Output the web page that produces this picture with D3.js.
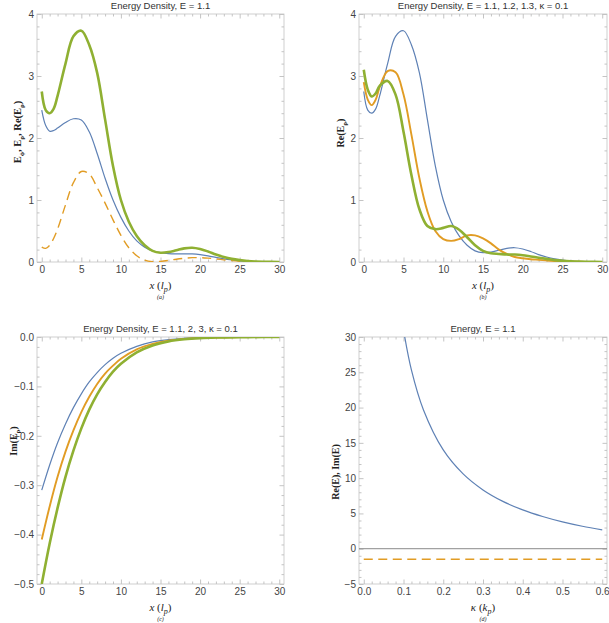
<!DOCTYPE html>
<html>
<head>
<meta charset="utf-8">
<script src="https://cdn.jsdelivr.net/npm/d3@7"></script>
<style>
  body { margin: 0; background: #fff; }
  svg { display: block; }
</style>
</head>
<body>
<div id="chart"></div>
<script>
// ---- data ----
const xGrid = [0, 0.5, 1, 1.5, 2, 3, 4, 5, 6, 7, 8, 9, 10, 11, 12, 13, 14, 15, 16, 17, 18, 19, 20, 21, 22, 23, 24, 25, 26, 27, 28, 30];

// panel (a), E = 1.1
const densA_green = [2.75, 2.45, 2.40, 2.47, 2.68, 3.20, 3.64, 3.73, 3.50, 3.05, 2.30, 1.55, 1.00, 0.65, 0.42, 0.27, 0.18, 0.15, 0.16, 0.19, 0.22, 0.23, 0.21, 0.17, 0.12, 0.08, 0.05, 0.03, 0.016, 0.008, 0.004, 0];
const densA_blue = [2.45, 2.20, 2.11, 2.12, 2.16, 2.25, 2.31, 2.29, 2.10, 1.75, 1.35, 1.00, 0.72, 0.50, 0.34, 0.24, 0.18, 0.15, 0.135, 0.13, 0.13, 0.13, 0.12, 0.10, 0.075, 0.05, 0.032, 0.018, 0.01, 0.005, 0.002, 0];
const densA_orange = [0.24, 0.22, 0.27, 0.38, 0.53, 0.92, 1.28, 1.46, 1.42, 1.20, 0.95, 0.68, 0.43, 0.23, 0.10, 0.03, 0.005, 0.01, 0.025, 0.045, 0.06, 0.07, 0.07, 0.062, 0.05, 0.035, 0.022, 0.012, 0.006, 0.003, 0.001, 0];

// panel (b), E = 1.1 (same curve as green in a), 1.2, 1.3
const reB_e11 = densA_green;
const reB_e12 = [2.90, 2.62, 2.53, 2.62, 2.82, 3.08, 3.06, 2.70, 2.05, 1.35, 0.82, 0.50, 0.37, 0.34, 0.37, 0.43, 0.43, 0.38, 0.30, 0.20, 0.13, 0.08, 0.06, 0.045, 0.035, 0.025, 0.017, 0.011, 0.007, 0.004, 0.002, 0];
const reB_e13 = [3.10, 2.78, 2.67, 2.72, 2.84, 2.92, 2.70, 2.10, 1.40, 0.85, 0.58, 0.53, 0.55, 0.58, 0.52, 0.40, 0.27, 0.18, 0.14, 0.13, 0.12, 0.12, 0.11, 0.09, 0.07, 0.05, 0.03, 0.02, 0.012, 0.006, 0.003, 0];

// panel (c), E = 1.1, 2, 3
const cGrid = [0, 1, 2, 3, 4, 5, 6, 7, 8, 9, 10, 12, 14, 16, 18, 20, 22, 25, 28, 30];
const imC_e11 = [-0.31, -0.259, -0.214, -0.176, -0.143, -0.115, -0.091, -0.072, -0.056, -0.043, -0.033, -0.019, -0.010, -0.0055, -0.0028, -0.0014, -0.0007, -0.0002, -0.0001, 0];
const imC_e2 = [-0.41, -0.343, -0.283, -0.232, -0.189, -0.152, -0.121, -0.095, -0.074, -0.058, -0.044, -0.025, -0.014, -0.0073, -0.0037, -0.0018, -0.0009, -0.0002, -0.0001, 0];
const imC_e3 = [-0.5, -0.418, -0.346, -0.283, -0.230, -0.185, -0.147, -0.116, -0.091, -0.070, -0.054, -0.031, -0.017, -0.009, -0.0046, -0.0022, -0.001, -0.0003, -0.0001, 0];

// panel (d), energy vs kappa
const kGrid = [0.1, 0.12, 0.15, 0.2, 0.25, 0.3, 0.35, 0.4, 0.45, 0.5, 0.55, 0.6];
const reE = [31, 25.3, 19.7, 14.0, 10.6, 8.33, 6.71, 5.5, 4.56, 3.8, 3.18, 2.67];
const kImGrid = [0, 0.6];
const imE = [-1.5, -1.5];

// tick values
const xMajor = [0, 5, 10, 15, 20, 25, 30];
const xMinor = d3.range(0, 31, 1).filter(v => v % 5 !== 0);
const yMajorAB = [0, 1, 2, 3, 4];
const yMinorAB = d3.range(0, 4.01, 0.2).filter(v => Math.abs(v - Math.round(v)) > 1e-6);
const yMajorC = [0, -0.1, -0.2, -0.3, -0.4, -0.5];
const yMinorC = d3.range(-0.5, 0.001, 0.02).filter(v => Math.abs(v * 10 - Math.round(v * 10)) > 1e-6);
const kMajor = [0, 0.1, 0.2, 0.3, 0.4, 0.5, 0.6];
const kMinor = d3.range(0, 0.601, 0.02).filter(v => Math.abs(v * 10 - Math.round(v * 10)) > 1e-6);
const yMajorD = [-5, 0, 5, 10, 15, 20, 25, 30];
const yMinorD = d3.range(-5, 30.01, 1).filter(v => v % 5 !== 0);

const BLUE = "#5e81b5", ORANGE = "#e19c24", GREEN = "#8fb032";

const svg = d3.select("#chart").append("svg")
  .attr("width", 609)
  .attr("height", 623);

let clipId = 0;

function panel(cfg) {
  const g = svg.append("g");
  const x = d3.scaleLinear().domain(cfg.xDomain).range([cfg.left, cfg.right]);
  const y = d3.scaleLinear().domain(cfg.yDomain).range([cfg.bottom, cfg.top]);

  // title
  g.append("text")
    .attr("x", (cfg.left + cfg.right) / 2)
    .attr("y", cfg.top - 5)
    .attr("text-anchor", "middle")
    .style("font-family", "Liberation Sans, Arial, sans-serif")
    .style("font-size", "9.5px")
    .style("fill", "#333")
    .text(cfg.title);

  // frame ticks, all four sides, pointing inward
  const tickCol = "#b5b5b5";
  function addAxis(axis, tx, ty, labels) {
    const a = g.append("g").attr("transform", `translate(${tx},${ty})`).call(axis);
    a.select(".domain").remove();
    a.selectAll("line").attr("stroke", tickCol).attr("stroke-width", 0.8);
    a.selectAll("text")
      .style("font-family", "Liberation Sans, Arial, sans-serif")
      .style("font-size", "10px")
      .style("fill", "#444");
    if (!labels) a.selectAll("text").remove();
  }
  addAxis(d3.axisBottom(x).tickValues(cfg.xMajor).tickSize(-4.5).tickPadding(4).tickFormat(cfg.xFmt), 0, cfg.bottom, true);
  addAxis(d3.axisBottom(x).tickValues(cfg.xMinor).tickSize(-2.5), 0, cfg.bottom, false);
  addAxis(d3.axisTop(x).tickValues(cfg.xMajor).tickSize(-4.5), 0, cfg.top, false);
  addAxis(d3.axisTop(x).tickValues(cfg.xMinor).tickSize(-2.5), 0, cfg.top, false);
  addAxis(d3.axisLeft(y).tickValues(cfg.yMajor).tickSize(-4.5).tickPadding(3).tickFormat(cfg.yFmt), cfg.left, 0, true);
  addAxis(d3.axisLeft(y).tickValues(cfg.yMinor).tickSize(-2.5), cfg.left, 0, false);
  addAxis(d3.axisRight(y).tickValues(cfg.yMajor).tickSize(-4.5), cfg.right, 0, false);
  addAxis(d3.axisRight(y).tickValues(cfg.yMinor).tickSize(-2.5), cfg.right, 0, false);

  g.append("rect")
    .attr("x", cfg.left).attr("y", cfg.top)
    .attr("width", cfg.right - cfg.left).attr("height", cfg.bottom - cfg.top)
    .attr("fill", "none")
    .attr("stroke", "#c4c4c4")
    .attr("stroke-width", 0.8);

  // clip for curves
  const id = "clip" + (clipId++);
  svg.append("clipPath").attr("id", id).append("rect")
    .attr("x", cfg.left).attr("y", cfg.top)
    .attr("width", cfg.right - cfg.left).attr("height", cfg.bottom - cfg.top);
  const plot = g.append("g").attr("clip-path", `url(#${id})`);

  if (cfg.zeroLine) {
    plot.append("line")
      .attr("x1", cfg.left).attr("x2", cfg.right)
      .attr("y1", y(0)).attr("y2", y(0))
      .attr("stroke", "#8a8a8a").attr("stroke-width", 1);
  }

  const line = d3.line()
    .x(d => x(d[0]))
    .y(d => y(d[1]))
    .curve(d3.curveCatmullRom.alpha(0.5));

  cfg.series.forEach(s => {
    plot.append("path")
      .datum(d3.zip(s.xs, s.ys))
      .attr("d", line)
      .attr("fill", "none")
      .attr("stroke", s.color)
      .attr("stroke-width", s.width)
      .attr("stroke-dasharray", s.dash || null)
      .attr("stroke-linejoin", "round")
      .attr("stroke-linecap", "butt");
  });

  // x label (serif, italic) with subscript
  const xl = g.append("text")
    .attr("x", (cfg.left + cfg.right) / 2)
    .attr("y", cfg.bottom + 27)
    .attr("text-anchor", "middle")
    .style("font-family", "Liberation Serif, Times New Roman, serif")
    .style("font-size", "11px")
    .style("fill", "#222");
  xl.append("tspan").style("font-style", "italic").text(cfg.xVar);
  xl.append("tspan").text(" (");
  xl.append("tspan").style("font-style", "italic").text(cfg.xUnit);
  xl.append("tspan").style("font-style", "italic").style("font-size", "8px").attr("dy", 2.5).text("p");
  xl.append("tspan").attr("dy", -2.5).text(")");

  g.append("text")
    .attr("x", (cfg.left + cfg.right) / 2)
    .attr("y", cfg.bottom + 37)
    .attr("text-anchor", "middle")
    .style("font-family", "Liberation Serif, Times New Roman, serif")
    .style("font-size", "6px")
    .style("font-style", "italic")
    .style("fill", "#222")
    .text(cfg.tag);

  // y label, rotated, bold serif, pieces with subscripts
  const yl = g.append("text")
    .attr("transform", `translate(${cfg.yLabelX},${cfg.yLabelY}) rotate(-90)`)
    .attr("text-anchor", "middle")
    .style("font-family", "Liberation Serif, Times New Roman, serif")
    .style("font-size", cfg.yLabelSize || "10px")
    .style("font-weight", "bold")
    .style("fill", "#222");
  cfg.yLabel.forEach(p => {
    const t = yl.append("tspan").text(p.t);
    if (p.sub) t.style("font-size", "7px").attr("dy", 2.5);
    if (p.up) t.attr("dy", -2.5);
  });

  return { x, y };
}

const fmt0 = d3.format("d");
const fmt1 = d3.format(".1f");

panel({
  left: 37, right: 284, top: 14, bottom: 262,
  xDomain: [-0.6, 30.6], yDomain: [0, 4],
  xMajor, xMinor, yMajor: yMajorAB, yMinor: yMinorAB,
  xFmt: fmt0, yFmt: fmt0,
  title: "Energy Density, E = 1.1",
  xVar: "x", xUnit: "l", tag: "(a)",
  yLabelX: 21, yLabelY: 132, yLabelSize: "10.5px",
  yLabel: [{ t: "E" }, { t: "ϕ", sub: true }, { t: ", E", up: true }, { t: "ρ", sub: true }, { t: ", Re(E", up: true }, { t: "ρ", sub: true }, { t: ")", up: true }],
  series: [
    { xs: xGrid, ys: densA_blue, color: BLUE, width: 1.2 },
    { xs: xGrid, ys: densA_orange, color: ORANGE, width: 1.4, dash: "9,5.5" },
    { xs: xGrid, ys: densA_green, color: GREEN, width: 2.6 }
  ]
});

panel({
  left: 359, right: 607, top: 14, bottom: 262,
  xDomain: [-0.6, 30.6], yDomain: [0, 4],
  xMajor, xMinor, yMajor: yMajorAB, yMinor: yMinorAB,
  xFmt: fmt0, yFmt: fmt0,
  title: "Energy Density, E = 1.1, 1.2, 1.3, κ = 0.1",
  xVar: "x", xUnit: "l", tag: "(b)",
  yLabelX: 344, yLabelY: 133,
  yLabel: [{ t: "Re(E" }, { t: "ρ", sub: true }, { t: ")", up: true }],
  series: [
    { xs: xGrid, ys: reB_e11, color: BLUE, width: 1.2 },
    { xs: xGrid, ys: reB_e12, color: ORANGE, width: 1.9 },
    { xs: xGrid, ys: reB_e13, color: GREEN, width: 2.6 }
  ]
});

panel({
  left: 37, right: 284, top: 337, bottom: 584,
  xDomain: [-0.6, 30.6], yDomain: [-0.5, 0],
  xMajor, xMinor, yMajor: yMajorC, yMinor: yMinorC,
  xFmt: fmt0, yFmt: fmt1,
  title: "Energy Density, E = 1.1, 2, 3, κ = 0.1",
  xVar: "x", xUnit: "l", tag: "(c)",
  yLabelX: 17, yLabelY: 441,
  yLabel: [{ t: "Im(E" }, { t: "ρ", sub: true }, { t: ")", up: true }],
  series: [
    { xs: cGrid, ys: imC_e11, color: BLUE, width: 1.2 },
    { xs: cGrid, ys: imC_e2, color: ORANGE, width: 1.9 },
    { xs: cGrid, ys: imC_e3, color: GREEN, width: 2.6 }
  ]
});

panel({
  left: 359, right: 607, top: 337, bottom: 584,
  xDomain: [-0.012, 0.612], yDomain: [-5, 30],
  xMajor: kMajor, xMinor: kMinor, yMajor: yMajorD, yMinor: yMinorD,
  xFmt: fmt1, yFmt: fmt0,
  title: "Energy, E = 1.1",
  xVar: "κ", xUnit: "k", tag: "(d)",
  yLabelX: 339, yLabelY: 472,
  yLabel: [{ t: "Re(E), Im(E)" }],
  zeroLine: true,
  series: [
    { xs: kGrid, ys: reE, color: BLUE, width: 1.2 },
    { xs: kImGrid, ys: imE, color: ORANGE, width: 1.4, dash: "9,5.5" }
  ]
});
</script>
</body>
</html>
